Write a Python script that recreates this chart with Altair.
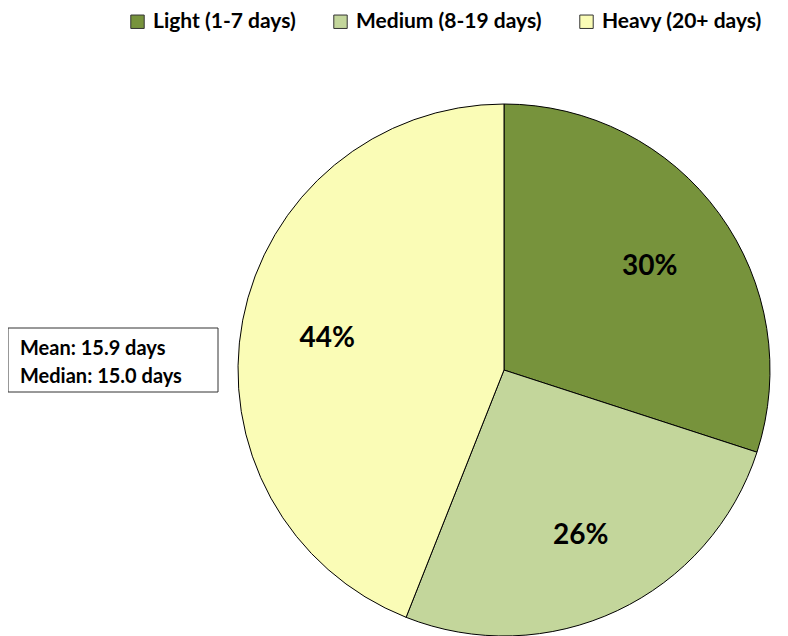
import altair as alt
import pandas as pd

categories = ["Light (1-7 days)", "Medium (8-19 days)", "Heavy (20+ days)"]
shares = [30, 26, 44]
colors = ["#77933C", "#C3D69B", "#FAFCB6"]
stats_lines = ["Mean: 15.9 days", "Median: 15.0 days"]

df = pd.DataFrame({"cat": categories, "share": shares, "order": [0, 1, 2]})
df["label"] = [f"{s}%" for s in shares]

FONT = "Lato"
CX, CY, R = 496, 362, 266

base = alt.Chart(df).encode(
    theta=alt.Theta("share:Q", stack=True),
    order=alt.Order("order:Q"),
)

pie = base.mark_arc(stroke="black", strokeWidth=1, outerRadius=R).encode(
    x=alt.value(CX),
    y=alt.value(CY),
    color=alt.Color(
        "cat:N",
        scale=alt.Scale(domain=categories, range=colors),
        sort=categories,
        legend=alt.Legend(
            title=None,
            orient="none",
            legendX=119,
            legendY=3,
            direction="horizontal",
            symbolType="square",
            symbolSize=180,
            symbolStrokeColor="#333333",
            symbolStrokeWidth=1,
            labelFont=FONT,
            labelFontSize=21,
            labelFontWeight="bold",
            labelColor="black",
            columnPadding=34,
            symbolOffset=0,
            labelOffset=5,
            labelLimit=400,
        ),
    ),
)

labels = base.mark_text(
    radius=180, dy=3, font=FONT, fontSize=28, fontWeight="bold", color="black"
).encode(
    x=alt.value(CX),
    y=alt.value(CY),
    text="label:N",
)

box = alt.Chart(pd.DataFrame({"a": [0]})).mark_rect(
    fill="white", stroke="#333333", strokeWidth=1
).encode(x=alt.value(0), x2=alt.value(210), y=alt.value(320), y2=alt.value(384))

stats_df = pd.DataFrame({"t": stats_lines})
stats_layers = []
for i, line in enumerate(stats_lines):
    stats_layers.append(
        alt.Chart(stats_df.iloc[[i]]).mark_text(
            align="left", baseline="middle", font=FONT, fontSize=20,
            fontWeight="bold", color="black"
        ).encode(x=alt.value(12), y=alt.value(341 + 28 * i), text="t:N")
    )

chart = (
    alt.layer(pie, labels, box, *stats_layers)
    .properties(width=772, height=628, autosize=alt.AutoSizeParams(type="none"), padding=0)
    .configure_view(stroke=None)
)

chart.save("out.html", embed_options={"renderer": "svg", "actions": False})
